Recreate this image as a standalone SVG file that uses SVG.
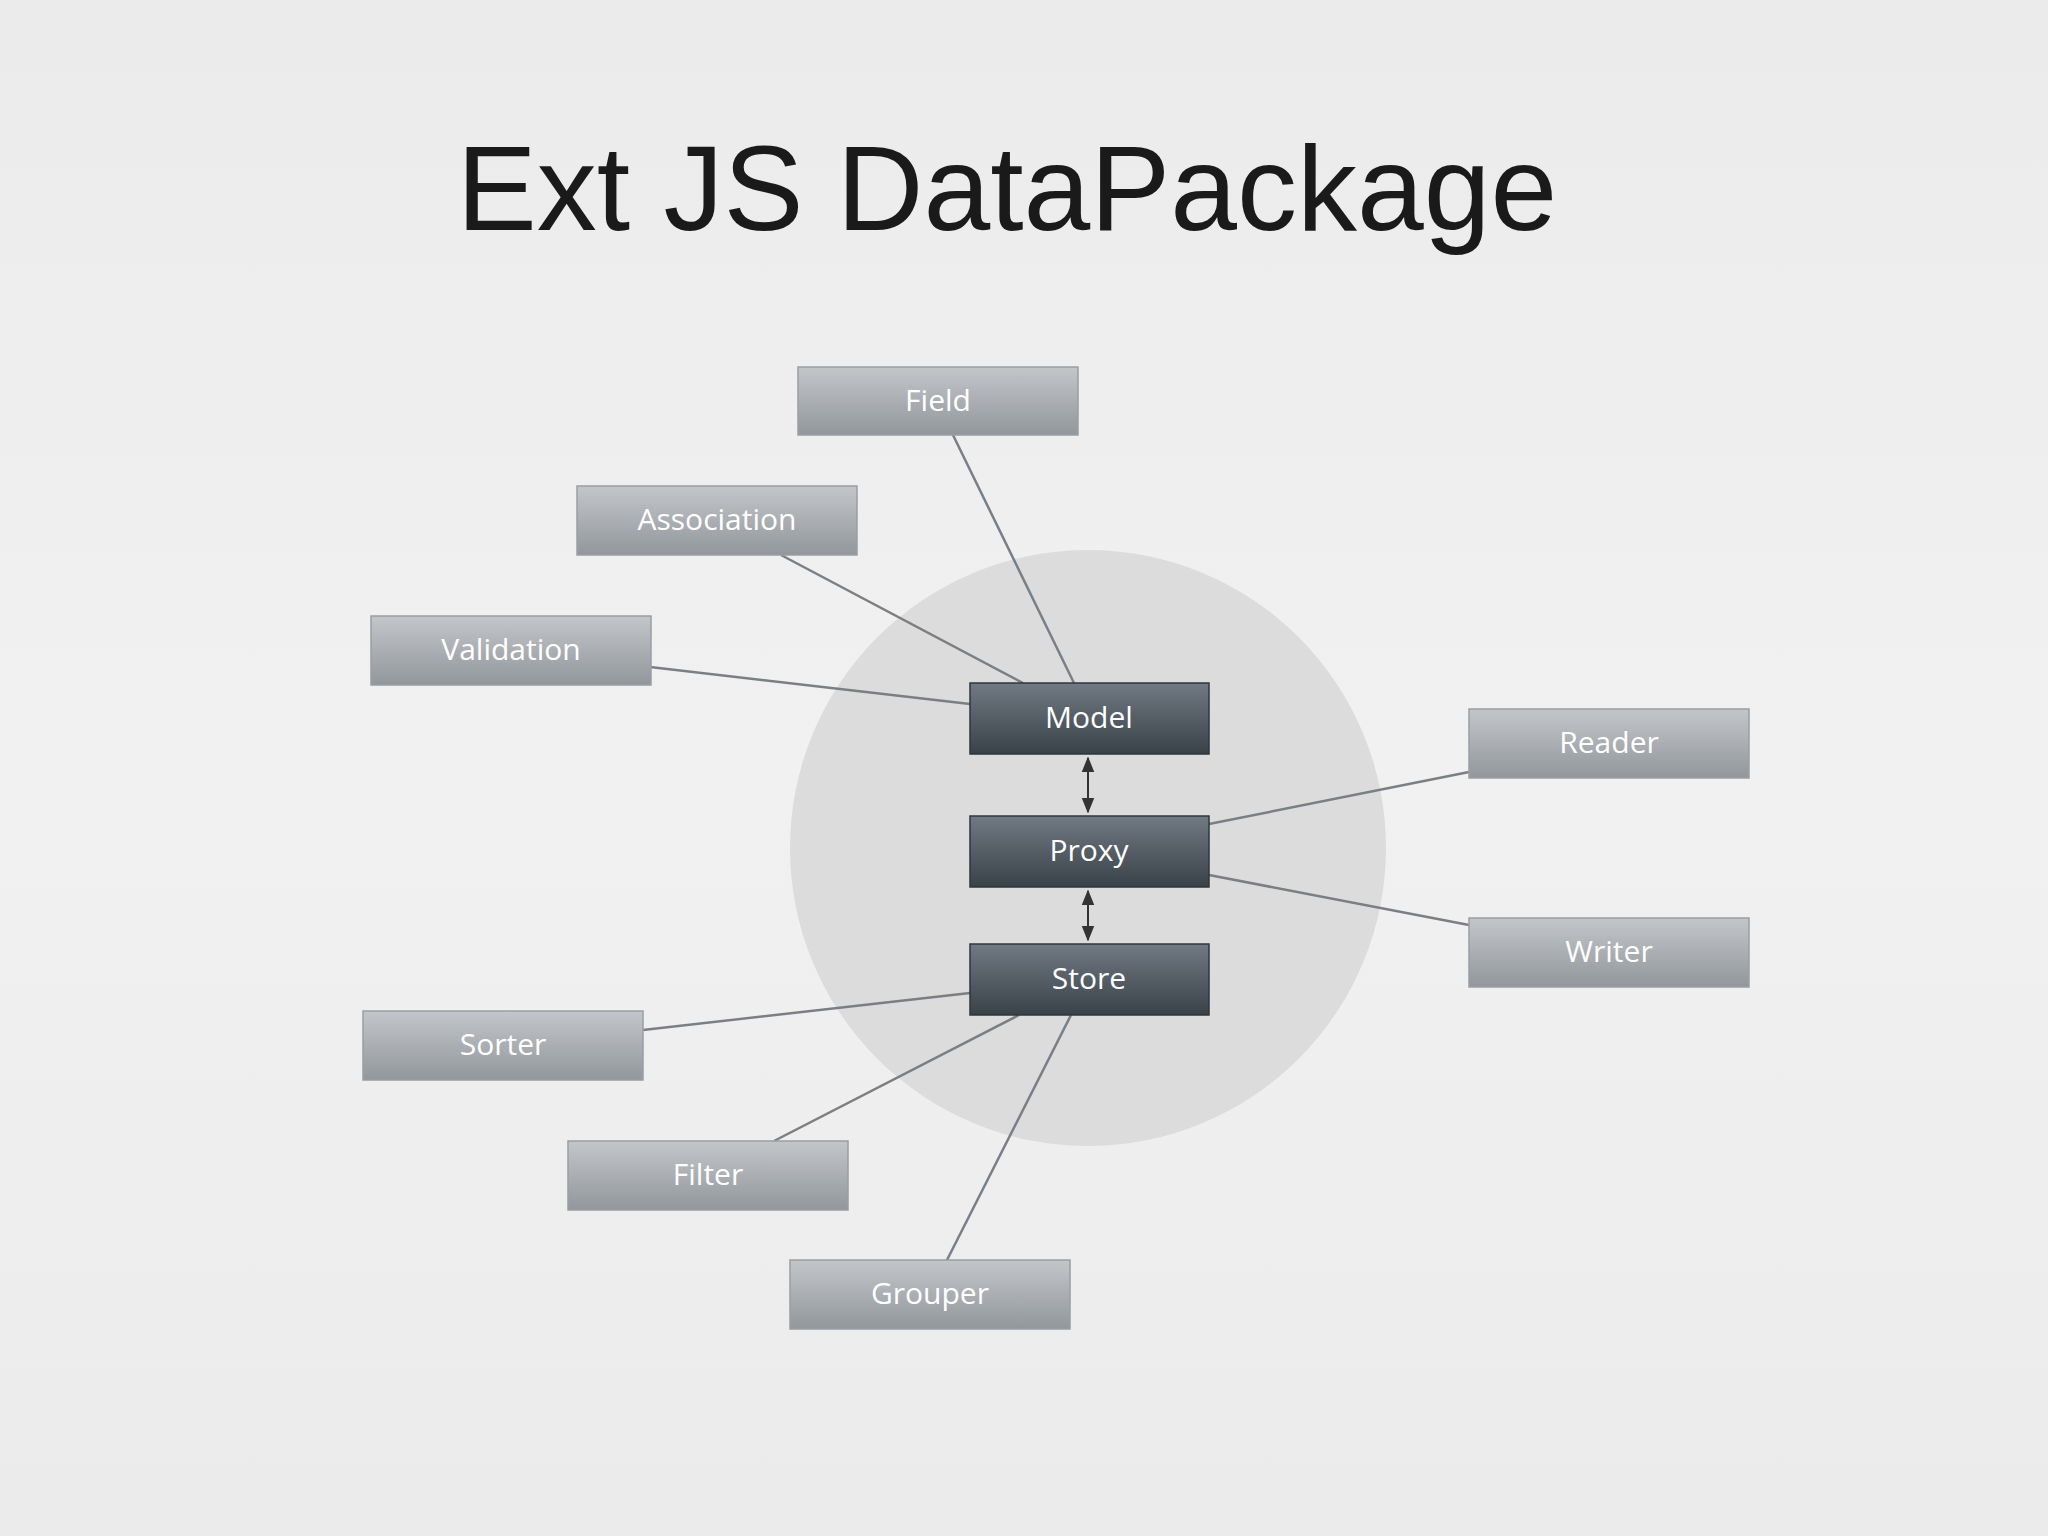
<svg xmlns="http://www.w3.org/2000/svg" width="2048" height="1536" viewBox="0 0 2048 1536">
<defs>
<linearGradient id="bg" x1="0" y1="0" x2="0" y2="1"><stop offset="0" stop-color="#ebebec"/><stop offset="0.5" stop-color="#f1f1f2"/><stop offset="1" stop-color="#ebebec"/></linearGradient>
<linearGradient id="lg" x1="0" y1="0" x2="0" y2="1"><stop offset="0" stop-color="#c3c6c9"/><stop offset="1" stop-color="#92979c"/></linearGradient>
<linearGradient id="dg" x1="0" y1="0" x2="0" y2="1"><stop offset="0" stop-color="#717a82"/><stop offset="1" stop-color="#394149"/></linearGradient>
<marker id="ah" viewBox="0 0 10 10" refX="9" refY="5" markerWidth="8" markerHeight="8" orient="auto-start-reverse"><path d="M0,1 L10,5 L0,9 z" fill="#333"/></marker>
<style>
.lb rect{fill:url(#lg);stroke:#9a9ea2;stroke-width:1.5}
.db rect{fill:url(#dg);stroke:#2f363c;stroke-width:1.5}
text.t{font-family:"Open Sans","DejaVu Sans",sans-serif;font-size:30px;fill:#fff;text-anchor:middle}
.c line{stroke:#7a7f84;stroke-width:2.5}
</style>
</defs>
<rect width="2048" height="1536" fill="url(#bg)"/>
<text x="1007" y="230" font-family="'Liberation Sans',Arial,sans-serif" font-size="120" fill="#1a1a1a" text-anchor="middle">Ext JS DataPackage</text>
<circle cx="1088" cy="848" r="298" fill="#dcdcdd"/>
<g class="c">
<line x1="953" y1="435" x2="1074" y2="683"/>
<line x1="781" y1="555" x2="1023" y2="683"/>
<line x1="650" y1="667" x2="970" y2="704"/>
<line x1="1469" y1="772" x2="1209" y2="824"/>
<line x1="1469" y1="925" x2="1209" y2="875"/>
<line x1="643" y1="1030" x2="970" y2="993"/>
<line x1="774" y1="1141" x2="1019" y2="1015"/>
<line x1="947" y1="1260" x2="1071" y2="1015"/>
<line x1="1088" y1="758" x2="1088" y2="812" style="stroke:#333;stroke-width:2" marker-start="url(#ah)" marker-end="url(#ah)"/>
<line x1="1088" y1="891" x2="1088" y2="940" style="stroke:#333;stroke-width:2" marker-start="url(#ah)" marker-end="url(#ah)"/>
</g>
<g id="field" class="lb"><rect x="798" y="367" width="280" height="68"/><text class="t" x="938" y="411">Field</text></g>
<g id="association" class="lb"><rect x="577" y="486" width="280" height="69"/><text class="t" x="717" y="530">Association</text></g>
<g id="validation" class="lb"><rect x="371" y="616" width="280" height="69"/><text class="t" x="511" y="660">Validation</text></g>
<g id="model" class="db"><rect x="970" y="683" width="239" height="71"/><text class="t" x="1089" y="728">Model</text></g>
<g id="proxy" class="db"><rect x="970" y="816" width="239" height="71"/><text class="t" x="1089" y="861">Proxy</text></g>
<g id="store" class="db"><rect x="970" y="944" width="239" height="71"/><text class="t" x="1089" y="989">Store</text></g>
<g id="reader" class="lb"><rect x="1469" y="709" width="280" height="69"/><text class="t" x="1609" y="753">Reader</text></g>
<g id="writer" class="lb"><rect x="1469" y="918" width="280" height="69"/><text class="t" x="1609" y="962">Writer</text></g>
<g id="sorter" class="lb"><rect x="363" y="1011" width="280" height="69"/><text class="t" x="503" y="1055">Sorter</text></g>
<g id="filter" class="lb"><rect x="568" y="1141" width="280" height="69"/><text class="t" x="708" y="1185">Filter</text></g>
<g id="grouper" class="lb"><rect x="790" y="1260" width="280" height="69"/><text class="t" x="930" y="1304">Grouper</text></g>
</svg>
